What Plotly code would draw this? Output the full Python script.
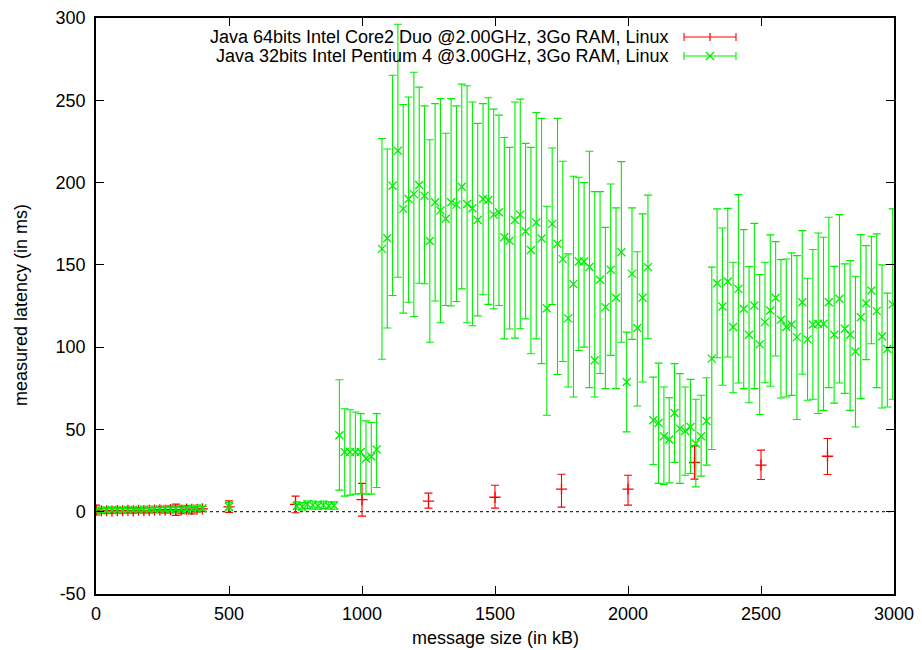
import plotly.graph_objects as go

# ---------------- data ----------------
x_tick_vals = [0, 500, 1000, 1500, 2000, 2500, 3000]
x_tick_text = ["0", "500", "1000", "1500", "2000", "2500", "3000"]
y_tick_vals = [-50, 0, 50, 100, 150, 200, 250, 300]
y_tick_text = ["-50", "0", "50", "100", "150", "200", "250", "300"]

series_names = [
    "Java 64bits Intel Core2 Duo @2.00GHz, 3Go RAM, Linux",
    "Java 32bits Intel Pentium 4 @3.00GHz, 3Go RAM, Linux",
]
x_title = "message size (in kB)"
y_title = "measured latency (in ms)"

# red series (Core2 Duo): value, upper and lower error-bar ends
red_x = [0, 20, 40, 60, 80, 100, 120, 140, 160, 180, 200, 220, 240, 260, 280, 300,
         320, 340, 360, 380, 400, 500, 750, 1000, 1250, 1500, 1750, 2000, 2250, 2500, 2750]
red_y = [1.0, 0.5, 0.6, 0.4, 0.7, 0.6, 0.8, 0.5, 0.9, 0.7, 0.8, 1.0, 1.1, 0.9, 1.3, 1.2,
         1.0, 1.6, 1.4, 1.5, 1.7, 3.0, 4.4, 7.4, 6.4, 8.8, 13.7, 13.7, 29.9, 28.3, 33.7]
red_hi = [4.0, 2.0, 2.2, 1.8, 2.3, 2.0, 2.4, 2.0, 2.5, 2.3, 2.4, 2.7, 3.0, 2.6, 3.4, 4.6,
          3.2, 3.8, 2.9, 3.0, 3.2, 6.6, 9.5, 17.2, 11.3, 16.1, 22.8, 22.2, 40.0, 37.4, 44.5]
red_lo = [-2.0, -0.8, -0.9, -1.0, -0.7, -0.9, -0.6, -1.0, -0.5, -0.8, -0.7, -0.5, -0.6, -0.7, -0.8, -2.2,
          -1.2, -0.6, -1.3, -0.2, 0.1, -0.4, -0.6, -2.7, 2.2, 2.2, 2.8, 4.0, 19.8, 19.6, 22.6]

# green series (Pentium 4): small sizes
green_low_x = [0, 20, 40, 60, 80, 100, 120, 140, 160, 180, 200, 220, 240, 260, 280, 300,
               320, 340, 360, 380, 400, 500]
green_low_y = [0.8, 0.7, 0.9, 1.0, 0.9, 1.1, 1.0, 1.2, 1.1, 1.3, 1.2, 1.4, 1.5, 1.4, 1.6, 1.7,
               1.6, 1.8, 1.9, 2.0, 2.1, 3.0]
green_low_hi = [1.8, 1.8, 2.0, 2.1, 2.0, 2.2, 2.1, 2.3, 2.3, 2.4, 2.4, 2.6, 2.7, 2.6, 2.8, 2.9,
                2.8, 3.0, 3.1, 3.2, 3.3, 5.5]
green_low_lo = [-0.2, -0.3, -0.1, 0.0, -0.1, 0.1, 0.0, 0.2, 0.0, 0.3, 0.1, 0.3, 0.4, 0.3, 0.5, 0.6,
                0.5, 0.7, 0.8, 0.9, 1.0, 1.0]

# green series: larger sizes, 755 .. 2995 kB every 20 kB
green_main_x = list(range(755, 3000, 20))
green_main_y = [
    3.5, 3.0, 4.5, 4.0, 3.5, 4.0, 3.5, 3.8,
    46.5, 36.3, 36.3, 36.3, 36.3, 32.3, 33.5, 37.8,
    159.7, 166.2, 198.1, 219.3, 184.0, 190.0, 193.0, 198.5, 192.0, 164.5,
    188.0, 183.0, 178.0, 188.0, 186.6, 197.5, 187.0, 184.4, 177.3, 190.0,
    189.4, 180.5, 182.0, 166.8, 164.7, 177.3, 180.5, 170.4, 159.0, 175.7,
    166.0, 123.6, 174.9, 162.8, 153.5, 117.5, 138.3, 152.0, 152.0, 148.7,
    92.0, 140.9, 124.3, 147.0, 130.0, 157.7, 78.8, 144.5, 111.6, 130.0,
    148.6, 55.6, 53.9, 45.9, 43.9, 60.0, 50.5, 49.0, 51.5, 41.4,
    45.9, 55.1, 93.0, 138.8, 124.7, 139.9, 112.2, 135.4, 123.3, 107.5,
    125.3, 101.7, 115.2, 122.3, 130.0, 116.6, 112.2, 113.8, 106.1, 127.3,
    104.7, 113.8, 114.2, 114.2, 127.3, 107.5, 129.4, 111.2, 107.5, 97.4,
    118.2, 126.7, 134.4, 121.9, 106.5, 98.9, 126.0,
]
green_main_hi = [
    6.0, 5.5, 6.5, 6.5, 6.0, 6.5, 6.0, 6.0,
    80.2, 62.6, 62.0, 60.6, 59.6, 55.2, 54.2, 59.6,
    226.8, 220.4, 265.2, 296.2, 247.4, 252.0, 267.0, 258.0, 246.6, 226.0,
    248.0, 251.0, 230.0, 251.0, 246.6, 259.8, 258.8, 249.0, 236.0, 248.0,
    251.5, 244.6, 241.0, 227.4, 221.4, 249.0, 250.7, 223.8, 221.4, 242.6,
    239.0, 185.6, 221.0, 239.0, 213.0, 156.7, 203.8, 203.2, 200.0, 219.0,
    194.5, 194.5, 172.8, 199.1, 184.6, 212.7, 109.1, 184.6, 158.0, 181.0,
    192.4, 81.8, 90.3, 75.8, 69.3, 90.0, 83.9, 75.8, 80.4, 68.3,
    70.8, 81.4, 148.6, 184.0, 172.4, 184.3, 151.6, 192.7, 171.4, 149.0,
    175.2, 144.1, 151.6, 168.2, 164.1, 153.2, 153.6, 157.3, 155.6, 170.8,
    141.9, 159.3, 169.4, 166.8, 178.9, 149.1, 180.5, 150.6, 152.6, 143.1,
    168.4, 161.7, 167.4, 168.8, 150.0, 132.8, 184.0,
]
green_main_lo = [
    1.5, 1.0, 2.0, 1.5, 1.5, 2.0, 1.5, 1.5,
    13.1, 9.5, 10.1, 10.7, 11.0, 10.7, 10.7, 14.7,
    92.6, 111.6, 131.4, 142.5, 120.7, 127.3, 118.6, 138.8, 138.5, 103.0,
    128.0, 114.8, 125.3, 125.0, 127.7, 135.4, 114.8, 113.0, 119.0, 131.8,
    126.0, 123.3, 125.3, 105.0, 111.0, 105.5, 111.2, 117.2, 96.0, 105.0,
    90.0, 58.6, 125.9, 83.4, 91.3, 75.8, 69.7, 98.0, 100.0, 75.4,
    69.7, 84.0, 74.8, 95.0, 74.8, 103.0, 48.5, 104.7, 64.2, 78.8,
    105.1, 28.7, 17.2, 16.6, 17.5, 29.9, 17.2, 22.2, 23.2, 15.1,
    21.6, 28.3, 37.8, 93.6, 76.8, 94.0, 72.3, 78.2, 74.8, 66.2,
    74.8, 59.1, 78.4, 76.2, 94.6, 69.1, 69.7, 70.7, 56.0, 83.5,
    67.7, 68.3, 59.7, 61.6, 75.4, 66.0, 78.2, 71.9, 61.6, 51.5,
    68.7, 92.4, 102.1, 75.4, 63.0, 63.6, 68.3,
]

green_x = green_low_x + green_main_x
green_y = green_low_y + green_main_y
green_hi = green_low_hi + green_main_hi
green_lo = green_low_lo + green_main_lo

# ---------------- style / layout ----------------
W, H = 922, 650
L, R, T, B = 96, 894, 18, 594
RED = "#ff0000"
GREEN = "#00ee00"
FONT = "Liberation Sans, Arial, Helvetica, sans-serif"
FS = 18


def px_x(p):
    return (p - L) / (R - L)


def px_y(p):
    return (B - p) / (B - T)


def err(y, hi, lo):
    return [h - v for v, h in zip(y, hi)], [v - l for v, l in zip(y, lo)]


fig = go.Figure()

for xs, ys, his, los, color, sym in [
    (red_x, red_y, red_hi, red_lo, RED, "cross-thin"),
    (green_x, green_y, green_hi, green_lo, GREEN, "x-thin"),
]:
    up, down = err(ys, his, los)
    fig.add_trace(go.Scatter(
        x=xs, y=ys, mode="markers", showlegend=False,
        marker=dict(symbol=sym, size=8, color=color, line=dict(color=color, width=1.3)),
        error_y=dict(type="data", symmetric=False, array=up, arrayminus=down,
                     color=color, thickness=1.1, width=4),
    ))

# dotted zero axis
fig.add_shape(type="line", xref="x", yref="y", x0=0, x1=3000, y0=0, y1=0,
              line=dict(color="black", width=1, dash="dot"), layer="below")

# custom gnuplot-style key (text right aligned, sample on the right)
key_text_right = 671
key_x0, key_x1 = 684, 736
key_rows = [37, 56]
for name, color, row, kind in zip(series_names, [RED, GREEN], key_rows, ["plus", "cross"]):
    fig.add_annotation(x=px_x(key_text_right), y=px_y(row), xref="paper", yref="paper",
                       text=name, showarrow=False, xanchor="right", yanchor="middle",
                       font=dict(family=FONT, size=FS, color="black"))
    fig.add_shape(type="line", xref="paper", yref="paper",
                  x0=px_x(key_x0), x1=px_x(key_x1), y0=px_y(row), y1=px_y(row),
                  line=dict(color=color, width=1.1))
    for xe in (key_x0, key_x1):
        fig.add_shape(type="line", xref="paper", yref="paper",
                      x0=px_x(xe), x1=px_x(xe), y0=px_y(row - 4), y1=px_y(row + 4),
                      line=dict(color=color, width=1.1))
    xc = (key_x0 + key_x1) / 2
    if kind == "plus":
        fig.add_shape(type="line", xref="paper", yref="paper",
                      x0=px_x(xc), x1=px_x(xc), y0=px_y(row - 4), y1=px_y(row + 4),
                      line=dict(color=color, width=1.2))
    else:
        fig.add_shape(type="line", xref="paper", yref="paper",
                      x0=px_x(xc - 4), x1=px_x(xc + 4), y0=px_y(row - 4), y1=px_y(row + 4),
                      line=dict(color=color, width=1.2))
        fig.add_shape(type="line", xref="paper", yref="paper",
                      x0=px_x(xc - 4), x1=px_x(xc + 4), y0=px_y(row + 4), y1=px_y(row - 4),
                      line=dict(color=color, width=1.2))

# axis titles
fig.add_annotation(x=px_x(495), y=px_y(638), xref="paper", yref="paper", text=x_title,
                   showarrow=False, xanchor="center", yanchor="middle",
                   font=dict(family=FONT, size=FS, color="black"))
fig.add_annotation(x=px_x(21), y=px_y(305), xref="paper", yref="paper", text=y_title,
                   showarrow=False, xanchor="center", yanchor="middle", textangle=-90,
                   font=dict(family=FONT, size=FS, color="black"))

axis_common = dict(showgrid=False, zeroline=False, showline=True, linecolor="black",
                   linewidth=1.5, mirror="ticks", ticks="inside", ticklen=8,
                   tickwidth=1, tickcolor="black",
                   tickfont=dict(family=FONT, size=FS, color="black"))

fig.update_layout(
    width=W, height=H,
    margin=dict(l=L, r=W - R, t=T, b=H - B, autoexpand=False),
    paper_bgcolor="white", plot_bgcolor="white",
    showlegend=False,
    xaxis=dict(range=[0, 3000], tickmode="array", tickvals=x_tick_vals, ticktext=x_tick_text,
               ticklabelstandoff=3, **axis_common),
    yaxis=dict(range=[-50, 300], tickmode="array", tickvals=y_tick_vals, ticktext=y_tick_text,
               ticklabelstandoff=5, **axis_common),
)

fig.write_html("out.html", config={"displayModeBar": False},
               post_script="document.body.style.margin='0';document.body.style.overflow='hidden';")
